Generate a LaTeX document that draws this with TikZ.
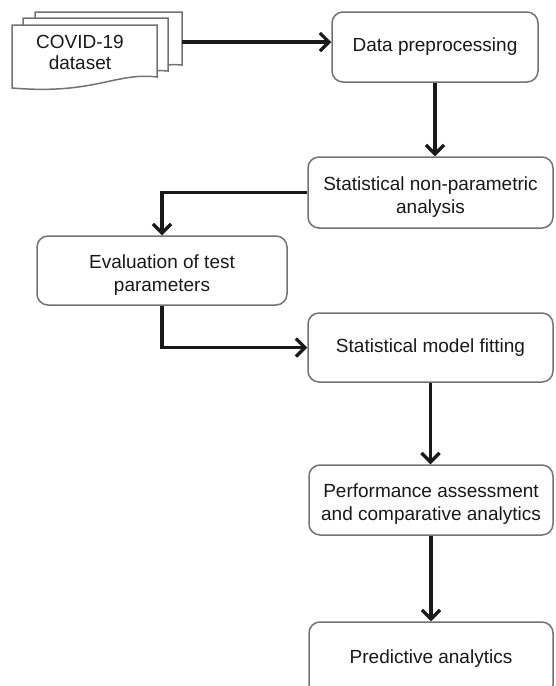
\documentclass[tikz,border=0pt]{standalone}
\usepackage{fontspec}
\setmainfont{Liberation Sans}
\usetikzlibrary{arrows.meta}
\newcommand{\topstrut}{\rule{0pt}{22pt}}
\begin{document}
\begin{tikzpicture}[x=1pt,y=-1pt,
  box/.style={draw=black!55, line width=1.5pt, rounded corners=11pt, fill=white,
    align=center, inner sep=0pt, text=black!90,
    font=\fontsize{19}{23}\selectfont},
  docshape/.style={draw=black!55, line width=1.5pt, fill=white},
  flow/.style={line width=3.3pt, draw=black!90, -{Straight Barb[length=9pt,width=18pt,line width=3.3pt]}}]
\useasboundingbox (0,0) rectangle (555,686);
\clip (0,0) rectangle (555,686);
% document stack
\draw[docshape] (35,12) -- (182,12) -- (182,65) .. controls (150,62) and (120,80) .. (35,76) -- cycle;
\draw[docshape] (23,18) -- (168,18) -- (168,71) .. controls (136,68) and (106,86) .. (23,82) -- cycle;
\draw[docshape] (12,25) -- (157,25) -- (157,77) .. controls (115,72) and (95,95) .. (12,88) -- cycle;
\node[align=center, text=black!90, font=\fontsize{19}{21}\selectfont] (doc) at (80,52) {COVID-19\\dataset};
\coordinate (docout) at (182,42);
% boxes
\node[box, minimum width=206pt, minimum height=70pt] (dp) at (435,47) {Data preprocessing};
\node[box, minimum width=245pt, minimum height=71pt] (snp) at (430.5,192.5) {\topstrut Statistical non-parametric\\analysis};
\node[box, minimum width=250pt, minimum height=69pt] (ev) at (162,270.5) {\topstrut Evaluation of test\\parameters};
\node[box, minimum width=245pt, minimum height=69pt] (smf) at (430.5,347.5) {Statistical model fitting};
\node[box, minimum width=244pt, minimum height=70pt] (pa) at (431,500) {\topstrut Performance assessment\\and comparative analytics};
\node[box, minimum width=244pt, minimum height=74pt] (pr) at (431,659) {Predictive analytics};
% connectors
\draw[flow] (docout) -- (docout -| dp.west);
\draw[flow] (dp.south) -- (dp.south |- snp.north);
\draw[flow] (snp.west) -| (ev.north);
\draw[flow] (ev.south) |- (smf.west);
\draw[flow] (smf.south) -- (smf.south |- pa.north);
\draw[flow] (pa.south) -- (pa.south |- pr.north);
\end{tikzpicture}
\end{document}
